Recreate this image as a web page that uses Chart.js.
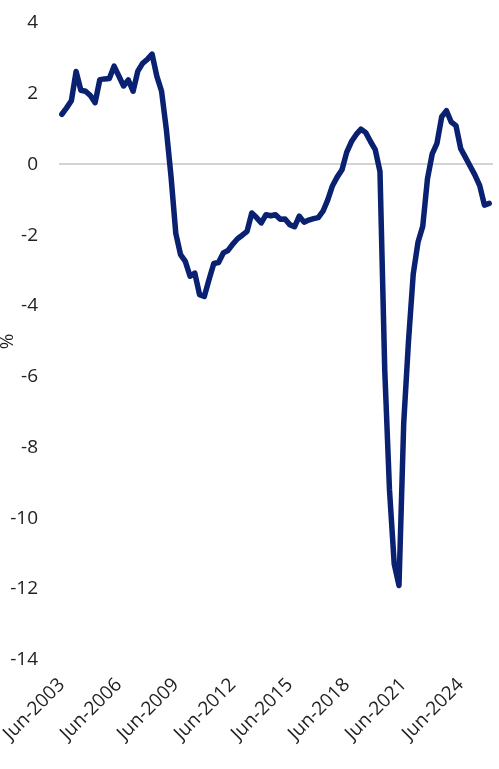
<!DOCTYPE html>
<html>
<head>
<meta charset="utf-8">
<script src="https://cdn.jsdelivr.net/npm/chart.js@4"></script>
<style>
html,body{margin:0;padding:0;background:#fff;}
#wrap{width:499px;height:769px;position:relative;}
</style>
</head>
<body>
<div id="wrap"><canvas id="c"></canvas></div>
<script>
// Quarterly series, Jun-2003 .. Dec-2025
const startYear = 2003;
const quarterMonths = ['Jun', 'Sep', 'Dec', 'Mar'];
const values = [
  1.42, 1.6, 1.8, 2.63, 2.1, 2.07, 1.95, 1.75, 2.4, 2.42,
  2.43, 2.78, 2.5, 2.22, 2.39, 2.07, 2.64, 2.86, 2.97, 3.12,
  2.5, 2.07, 1.0, -0.35, -1.95, -2.55, -2.74, -3.16, -3.07, -3.68,
  -3.73, -3.25, -2.8, -2.77, -2.5, -2.43, -2.25, -2.1, -2.0, -1.89,
  -1.37, -1.5, -1.65, -1.42, -1.45, -1.42, -1.55, -1.54, -1.7, -1.76,
  -1.46, -1.63, -1.57, -1.53, -1.5, -1.32, -1.0, -0.6, -0.35, -0.15,
  0.35, 0.65, 0.85, 1.0, 0.9, 0.65, 0.42, -0.2, -5.8, -9.2,
  -11.3, -11.9, -7.3, -5.0, -3.1, -2.2, -1.75, -0.4, 0.3, 0.6,
  1.35, 1.52, 1.2, 1.1, 0.45, 0.2, -0.05, -0.3, -0.6, -1.15,
  -1.1
];
const yTicks = [4, 2, 0, -2, -4, -6, -8, -10, -12, -14];
const yTitle = '%';

const labels = values.map((v, i) => {
  const m = quarterMonths[i % 4];
  const y = startYear + Math.floor((i + 1) / 4);
  return m + '-' + y;
});
const points = values.map((v, i) => ({x: i, y: v}));

const font = {family: "'Open Sans', 'Noto Sans', sans-serif", size: 19};
new Chart(document.getElementById('c'), {
  type: 'line',
  data: {
    datasets: [{
      data: points,
      borderColor: '#0a2070',
      borderWidth: 5.5,
      pointRadius: 0,
      tension: 0,
      borderJoinStyle: 'round',
      borderCapStyle: 'round',
      fill: false
    }]
  },
  options: {
    responsive: true,
    maintainAspectRatio: false,
    animation: false,
    layout: {padding: {top: 23, right: 6, bottom: 10, left: 0}},
    plugins: {legend: {display: false}, tooltip: {enabled: false}},
    scales: {
      x: {
        type: 'linear',
        min: -0.6,
        max: 90.8,
        afterFit: (axis) => { axis.paddingLeft = 0; axis.paddingRight = 0; },
        grid: {display: false, drawTicks: false},
        border: {display: false},
        ticks: {
          stepSize: 12,
          includeBounds: false,
          autoSkip: false,
          maxRotation: 45,
          minRotation: 45,
          padding: 14,
          color: '#222',
          font: font,
          callback: (v) => labels[v] !== undefined && Number.isInteger(v) ? labels[v] : ''
        }
      },
      y: {
        min: -14,
        max: 4,
        afterBuildTicks: (axis) => { axis.ticks = yTicks.map(v => ({value: v})); },
        afterFit: (axis) => { axis.width = 59; axis.paddingTop = 0; axis.paddingBottom = 0; },
        grid: {
          drawTicks: false,
          color: (ctx) => ctx.tick && ctx.tick.value === 0 ? '#d4d4d4' : 'rgba(0,0,0,0)',
          lineWidth: 2
        },
        border: {display: false},
        title: {display: true, text: yTitle, color: '#222', font: {family: font.family, size: 19}, padding: {top: -4, bottom: 0}},
        ticks: {color: '#222', font: font, padding: 21}
      }
    }
  }
});
</script>
</body>
</html>
